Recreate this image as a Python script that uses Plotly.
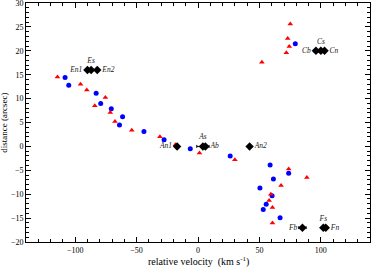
import plotly.graph_objects as go

# blue circles
blue_v = [-108.2, -105.2, -82.9, -79.2, -70.6, -61.4, -63.9, -44.0, -27.6, -6.3, 26.2,
          58.7, 73.8, 61.4, 50.4, 60.3, 55.5, 53.1, 66.8, 79.2]
blue_d = [14.4, 12.8, 11.1, 9.0, 7.9, 6.2, 4.5, 3.1, 1.4, -0.5, -2.0,
          -3.9, -5.6, -6.8, -8.7, -10.3, -12.1, -13.2, -14.9, 21.5]
# red triangles
red_v = [-114.4, -95.6, -90.5, -75.4, -84.0, -71.4, -67.6, -53.9, -31.0, -18.4, 1.2, 30.0,
         73.8, 88.6, 67.6, 59.3, 57.9, 60.6, 60.6, 75.1, 73.0, 74.3, 71.9, 52.0]
red_d = [14.5, 13.0, 11.8, 10.25, 8.5, 7.1, 5.2, 3.4, 2.0, 0.35, -1.4, -2.8,
         -4.7, -6.5, -8.2, -10.0, -11.3, -12.8, -16.0, 25.6, 22.6, 20.9, 19.6, 17.6]
# black diamonds (named components)
comp_names = ["En1", "Es", "En2", "Cb", "Cs", "Cn", "An1", "As", "Ab", "An2", "Fb", "Fs", "Fn"]
comp_v = [-90, -87, -82, 96, 100, 103, -17, 4, 6, 42, 85, 102, 104]
comp_d = [16, 16, 16, 20, 20, 20, 0, 0, 0, 0, -17, -17, -17]
comp_err = [1.5, 1.5, 1.0, 2.0, 2.0, 1.5, 1.0, 5.0, 1.0, 1.0, 3.0, 1.0, 1.0]
comp_pos = ["middle left", "top center", "middle right", "middle left", "top center", "middle right",
            "middle left", "top center", "middle right", "middle right", "middle left", "top center",
            "middle right"]

serif = "Liberation Serif"
fig = go.Figure()
fig.add_trace(go.Scatter(x=blue_v, y=blue_d, mode="markers",
                         marker=dict(symbol="circle", size=5, color="#0000ff")))
fig.add_trace(go.Scatter(x=red_v, y=red_d, mode="markers",
                         marker=dict(symbol="triangle-up", size=5, color="#ff0000")))
fig.add_trace(go.Scatter(x=comp_v, y=comp_d, mode="markers+text",
                         marker=dict(symbol="diamond", size=6.5, color="black"),
                         error_x=dict(type="data", array=comp_err, color="black", thickness=1, width=1.5),
                         text=comp_names, textposition=comp_pos,
                         textfont=dict(family=serif, size=7.5, color="#222222", style="italic")))

axis_common = dict(showline=True, linecolor="black", linewidth=1, mirror="allticks",
                   ticks="inside", ticklen=5, tickcolor="black", showgrid=False, zeroline=False,
                   automargin=False, ticklabeloverflow="allow",
                   tickfont=dict(family=serif, size=8, color="black"))
fig.update_layout(
    width=374, height=267, margin=dict(l=26, r=4, t=3, b=25),
    paper_bgcolor="white", plot_bgcolor="white", showlegend=False,
    xaxis=dict(range=[-140, 140], dtick=50, tick0=0, ticklabelstandoff=0,
               minor=dict(dtick=10, ticks="inside", ticklen=3, tickcolor="black"),
               **axis_common),
    yaxis=dict(range=[-20, 30.01], dtick=5, tick0=0,
               minor=dict(dtick=1, ticks="inside", ticklen=3, tickcolor="black"),
               **axis_common),
    annotations=[
        dict(text="relative velocity  (km s<sup>-1</sup>)", xref="paper", yref="paper",
             x=0.5, y=-0.045, xanchor="center", yanchor="top", showarrow=False,
             font=dict(family=serif, size=10, color="black")),
        dict(text="distance (arcsec)", xref="paper", yref="paper",
             x=-0.046, y=0.5, xanchor="right", yanchor="middle", showarrow=False, textangle=-90,
             font=dict(family=serif, size=9, color="black")),
    ],
)
fig.write_html("out.html", config={"displayModeBar": False})

# remove the default page margin so the figure sits at the window's corner
with open("out.html", encoding="utf-8") as f:
    html = f.read()
html = html.replace("<head>", "<head><style>html,body{margin:0;padding:0;overflow:hidden;}</style>", 1)
with open("out.html", "w", encoding="utf-8") as f:
    f.write(html)
